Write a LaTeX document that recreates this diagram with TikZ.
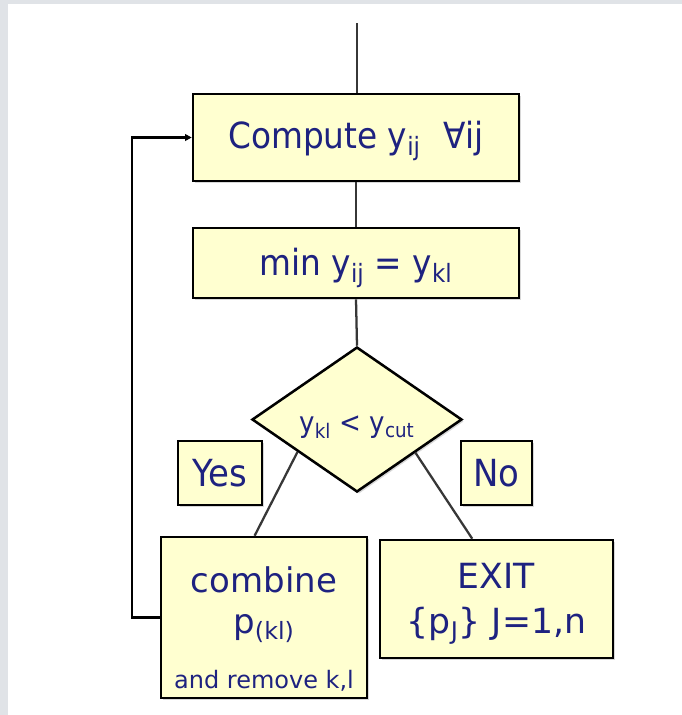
\documentclass[tikz,border=0pt]{standalone}
\usepackage{fontspec}
\setmainfont{DejaVu Sans}
\newfontfamily\narrowf{DejaVu Sans}[FakeStretch=0.91]
\usetikzlibrary{shapes.geometric,arrows.meta,shadows,calc}
\definecolor{bgray}{RGB}{224,227,231}
\definecolor{boxfill}{RGB}{255,255,208}
\definecolor{txt}{RGB}{30,34,128}
\definecolor{connc}{RGB}{55,55,55}
\newcommand{\txtat}[2]{\raisebox{#1}[0pt][0pt]{#2}}
\begin{document}
\begin{tikzpicture}[x=0.75pt,y=-0.75pt,
  box/.style={draw=black, line width=1.9pt, fill=boxfill, text=txt, inner sep=0pt,
    drop shadow={shadow xshift=1.5pt, shadow yshift=-1.5pt, opacity=0.3}},
  conn/.style={draw=connc, line width=1.7pt},
  loopline/.style={draw=black, line width=1.6pt}]
\fill[bgray] (0,0) rectangle (682,715);
\fill[white] (8,4) rectangle (682,715);
\useasboundingbox (0,0) rectangle (682,715);

\node[box, minimum width=244.5pt, minimum height=65.25pt] (comp) at (356,137.5)
  {\txtat{-7.9pt}{\narrowf\fontsize{27}{30}\selectfont Compute y\textsubscript{ij}\,\, ∀ij}};
\node[box, minimum width=244.5pt, minimum height=52.5pt] (min) at (356,263)
  {\txtat{-9pt}{\narrowf\fontsize{27}{30}\selectfont min y\textsubscript{ij} = y\textsubscript{kl}}};
\node[box, diamond, minimum width=157.5pt, minimum height=108.75pt] (dec) at (357,419.5)
  {\txtat{-10pt}{\narrowf\fontsize{21.5}{24}\selectfont y\textsubscript{kl} < y\textsubscript{cut}}};
\node[box, minimum width=63pt, minimum height=48pt] (yes) at (220,473)
  {\txtat{-10.3pt}{\narrowf\fontsize{28}{30}\selectfont Yes}};
\node[box, minimum width=53.25pt, minimum height=48pt] (no) at (496.5,473)
  {\txtat{-10.3pt}{\narrowf\fontsize{28}{30}\selectfont No}};
\node[box, minimum width=154.5pt, minimum height=120.75pt] (cb) at (264,617.5)
  {\txtat{19.1pt}{\parbox[t]{150pt}{\centering\fontsize{25.5}{30.75}\selectfont
    combine\\p\textsubscript{(kl)}\\[10.5pt]{\fontsize{18}{20}\selectfont and remove k,l}\par}}};
\node[box, minimum width=174.75pt, minimum height=88.5pt] (ex) at (496.5,599)
  {\txtat{8.25pt}{\parbox[t]{170pt}{\centering\fontsize{26}{33.75}\selectfont
    EXIT\\\{p\textsubscript{J}\} J=1,n\par}}};

\coordinate (start) at (357,23);
\draw[conn] (start) -- (start |- comp.north);
\draw[conn] (comp.south) -- (min.north);
\draw[conn] (min.south) -- (dec.north);
\coordinate (dl) at ($(dec.west)!0.44!(dec.south)$);
\coordinate (dr) at ($(dec.east)!0.45!(dec.south)$);
\coordinate (cbin) at ($(cb.north west)!0.455!(cb.north east)$);
\coordinate (exin) at ($(ex.north west)!0.397!(ex.north east)$);
\draw[conn] (dl) -- (cbin);
\draw[conn] (dr) -- (exin);
\draw[loopline, -{Triangle[length=5pt,width=5pt]}] (cb.west) -- ++(-28,0) |- (comp.west);
\end{tikzpicture}
\end{document}
